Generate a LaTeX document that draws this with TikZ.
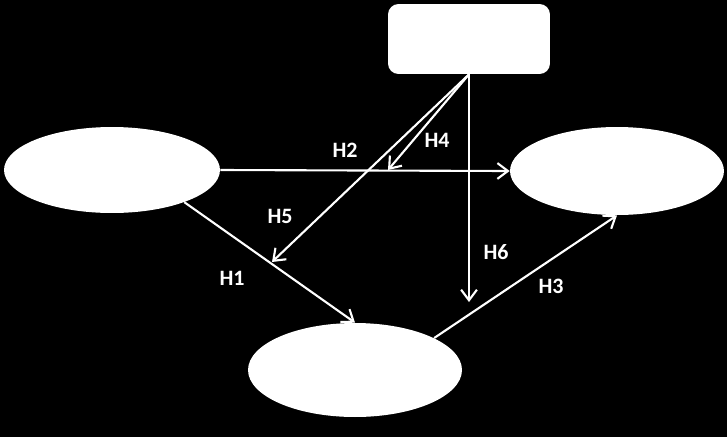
\documentclass[tikz,border=0pt]{standalone}
\usepackage{fontspec}
\setmainfont{Carlito}
\usetikzlibrary{shapes.geometric, arrows.meta}
\tikzset{main node/.style={ellipse, fill=white, inner sep=0pt},
  top node/.style={rectangle, rounded corners=6pt, fill=white, minimum width=3.24cm, minimum height=1.4cm},
  hyp/.style={draw=white, line width=1.2pt, -{Straight Barb[length=6pt, width=9pt]}},
  hyp label/.style={text=white, font=\bfseries\fontsize{12.5}{15}\selectfont},}

\begin{document}
\begin{tikzpicture}[x=0.02cm, y=-0.02cm]
        % Background
        \fill[black] (0,0) rectangle (727,437);
        % Constructs
        \node[main node, minimum width=4.32cm, minimum height=1.72cm] (left) at (112,170) {};
        \node[main node, minimum width=4.28cm, minimum height=1.76cm] (right) at (617,171) {};
        \node[main node, minimum width=4.28cm, minimum height=1.88cm] (bottom) at (355,370) {};
        \node[top node] (mod) at (469,39) {};
        % Free ends
        \coordinate (h4end) at (388,170);
        \coordinate (h5end) at (272,262);
        \coordinate (h6end) at (469,302);
        % Paths
        \path
        (left.east) edge[hyp] (right.west)
        (left.-24) edge[hyp] (bottom.north)
        (bottom.22) edge[hyp] (right.south)
        (mod.south) edge[hyp] (h4end)
        (mod.south) edge[hyp] (h5end)
        (mod.south) edge[hyp] (h6end);
        % Labels
        \node[hyp label] (h1) at (232,278) {H1};
        \node[hyp label] (h2) at (345,150) {H2};
        \node[hyp label] (h3) at (551,286) {H3};
        \node[hyp label] (h4) at (437,140) {H4};
        \node[hyp label] (h5) at (280,216) {H5};
        \node[hyp label] (h6) at (496,252) {H6};
    \end{tikzpicture}
\end{document}
